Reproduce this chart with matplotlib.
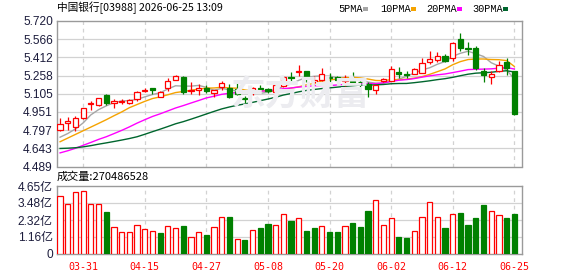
import matplotlib
matplotlib.use('Agg')
import matplotlib.pyplot as plt
from matplotlib.patches import Rectangle
import pandas as pd

W, H = 578, 276

title = "中国银行[03988] 2026-06-25 13:09"
vol_title = "成交量:270486528"

# daily OHLC (HKD), 60 sessions shown
opens  = [4.80, 4.86, 4.82, 4.90, 5.02, 5.01, 5.09, 5.03, 5.035, 5.03,
          5.06, 5.13, 5.15, 5.08, 5.15, 5.225, 5.245, 5.13, 5.14, 5.15,
          5.11, 5.165, 5.155, 5.145, 5.065, 5.12, 5.15, 5.145, 5.12, 5.17,
          5.25, 5.29, 5.295, 5.20, 5.22, 5.245, 5.25, 5.21, 5.215, 5.205,
          5.185, 5.14, 5.21, 5.21, 5.285, 5.27, 5.27, 5.28, 5.37, 5.39,
          5.425, 5.405, 5.565, 5.49, 5.49, 5.30, 5.245, 5.295, 5.37, 5.295]
highs  = [4.90, 4.91, 4.92, 4.98, 5.04, 5.07, 5.10, 5.06, 5.06, 5.06,
          5.13, 5.155, 5.155, 5.13, 5.24, 5.26, 5.255, 5.20, 5.19, 5.18,
          5.14, 5.21, 5.19, 5.195, 5.085, 5.16, 5.18, 5.155, 5.19, 5.255,
          5.29, 5.345, 5.30, 5.252, 5.322, 5.28, 5.255, 5.26, 5.29, 5.238,
          5.20, 5.182, 5.24, 5.337, 5.33, 5.295, 5.325, 5.408, 5.464, 5.458,
          5.44, 5.54, 5.621, 5.543, 5.505, 5.322, 5.295, 5.385, 5.408, 5.30]
lows   = [4.79, 4.80, 4.79, 4.89, 4.97, 5.00, 5.01, 4.98, 5.02, 5.02,
          5.04, 5.12, 5.105, 5.08, 5.125, 5.22, 5.105, 5.10, 5.09, 5.11,
          5.08, 5.14, 5.07, 5.09, 5.03, 5.095, 5.125, 5.115, 5.10, 5.16,
          5.21, 5.252, 5.204, 5.182, 5.21, 5.196, 5.22, 5.168, 5.182, 5.154,
          5.075, 5.103, 5.20, 5.21, 5.238, 5.238, 5.27, 5.281, 5.357, 5.372,
          5.372, 5.379, 5.469, 5.43, 5.302, 5.204, 5.19, 5.29, 5.266, 4.928]
closes = [4.85, 4.87, 4.90, 4.98, 5.03, 5.07, 5.03, 5.04, 5.045, 5.05,
          5.12, 5.135, 5.14, 5.12, 5.21, 5.255, 5.12, 5.14, 5.15, 5.13,
          5.135, 5.195, 5.08, 5.10, 5.06, 5.155, 5.145, 5.125, 5.175, 5.25,
          5.24, 5.30, 5.25, 5.22, 5.27, 5.235, 5.225, 5.24, 5.205, 5.20,
          5.145, 5.18, 5.23, 5.31, 5.275, 5.265, 5.315, 5.365, 5.40, 5.425,
          5.38, 5.535, 5.495, 5.485, 5.32, 5.265, 5.27, 5.35, 5.325, 4.935]
# closes of the 29 sessions before the window (estimated from where the MA lines start)
prior_closes = [4.80, 4.78, 4.76, 4.72, 4.70, 4.70, 4.69, 4.68, 4.66, 4.67,
                4.51, 4.48, 4.48, 4.54, 4.56, 4.58, 4.51, 4.50, 4.46, 4.48,
                4.56, 4.59, 4.67, 4.72, 4.76, 4.715, 4.705, 4.725, 4.69]
# volume in 亿 shares
volumes = [3.94, 3.40, 4.21, 4.28, 3.40, 3.40, 2.86, 1.83, 1.51, 1.51,
           1.96, 1.69, 1.55, 1.44, 1.89, 1.76, 1.92, 1.15, 1.49, 1.30,
           1.83, 2.50, 2.52, 1.01, 0.97, 1.62, 1.78, 2.05, 2.00, 2.72,
           2.25, 2.43, 1.58, 1.78, 1.91, 1.51, 1.51, 1.91, 2.14, 1.87,
           2.93, 3.72, 1.98, 2.43, 1.17, 1.10, 1.58, 2.52, 3.58, 2.50,
           1.78, 2.72, 2.79, 1.98, 2.45, 3.33, 2.97, 2.66, 2.45, 2.705]

price_ticks = [4.489, 4.643, 4.797, 4.951, 5.105, 5.258, 5.412, 5.566, 5.720]
price_tick_labels = ["4.489", "4.643", "4.797", "4.951", "5.105", "5.258", "5.412", "5.566", "5.720"]
vol_ticks = [0, 1.1625, 2.325, 3.4875, 4.65]
vol_tick_labels = ["0", "1.16亿", "2.32亿", "3.48亿", "4.65亿"]
date_idx = [3, 11, 19, 27, 35, 43, 51, 59]
date_labels = ["03-31", "04-15", "04-27", "05-08", "05-20", "06-02", "06-12", "06-25"]
ma_periods = [5, 10, 20, 30]
ma_labels = ["5PMA", "10PMA", "20PMA", "30PMA"]

RED = "#ff0000"
GREEN = "#008000"
ma_colors = ["#a6a6a6", "#f5a300", "#ff00ff", "#00662e"]
GRID = "#d2d2d2"
SPINE = "#9a9a9a"
LBL = "#1c1c3c"
CJK = ["Noto Sans CJK SC", "DejaVu Sans"]
NUMF = ["Liberation Sans", "Noto Sans CJK SC"]

n = len(closes)
xs = list(range(n))

fig = plt.figure(figsize=(W / 100, H / 100), dpi=100)
fig.patch.set_facecolor("white")

def fx(px):
    return px / W

def fy(py):
    return 1 - py / H

ax1 = fig.add_axes([fx(57), fy(166.5), fx(522 - 57), (166.5 - 21) / H])
ax2 = fig.add_axes([fx(57), fy(254), fx(522 - 57), (254 - 186) / H])

for ax in (ax1, ax2):
    ax.set_xlim(-0.4, 60.0)
    for s in ax.spines.values():
        s.set_color(SPINE)
        s.set_linewidth(1.0)
    ax.tick_params(length=0)
    for xi in date_idx:
        ax.axvline(xi, color=GRID, lw=0.9, ls=(0, (3, 3)), zorder=0)

# ---- price panel ----
ax1.set_ylim(price_ticks[0], price_ticks[-1])
ax1.set_yticks(price_ticks)
ax1.set_yticklabels(price_tick_labels, family=NUMF, fontsize=8.6, color=LBL)
ax1.tick_params(axis='y', pad=3)
ax1.set_xticks([])
for t in price_ticks[1:-1]:
    ax1.axhline(t, color=GRID, lw=0.9, zorder=0)

# watermark
fig.text(fx(300), fy(94), "东方财富", family=CJK, fontsize=25, fontweight='bold',
         style='italic', color="#ececf0", ha='center', va='center', zorder=0)

# moving averages
allc = pd.Series(prior_closes + closes)
for p, c in zip(ma_periods, ma_colors):
    ma = allc.rolling(p).mean().iloc[-n:].to_numpy()
    ax1.plot(xs, ma, color=c, lw=1.0, zorder=2)

bw = 0.68
for i in range(n):
    o, h, l, c = opens[i], highs[i], lows[i], closes[i]
    up = c >= o
    col = RED if up else GREEN
    ax1.plot([i, i], [l, h], color=col, lw=0.9, zorder=3, solid_capstyle='butt')
    bottom = min(o, c)
    height = max(abs(c - o), 0.002)
    ax1.add_patch(Rectangle((i - bw / 2, bottom), bw, height,
                            facecolor='white' if up else GREEN,
                            edgecolor=col, lw=0.9, zorder=4))

# ---- volume panel ----
ax2.set_ylim(0, 4.65)
ax2.set_yticks(vol_ticks)
ax2.set_yticklabels(vol_tick_labels, family=NUMF, fontsize=8.6, color=LBL)
ax2.tick_params(axis='y', pad=3)
for t in vol_ticks[1:-1]:
    ax2.axhline(t, color=GRID, lw=0.9, zorder=0)
prev = [prior_closes[-1]] + closes[:-1]
for i in range(n):
    up = closes[i] >= prev[i]
    if up:
        ax2.bar(i, volumes[i], width=bw, facecolor='white', edgecolor=RED, lw=0.9, zorder=3)
    else:
        ax2.bar(i, volumes[i], width=bw, facecolor=GREEN, edgecolor=GREEN, lw=0.9, zorder=3)
ax2.set_xticks(date_idx)
ax2.set_xticklabels(date_labels, family="DejaVu Sans Mono", fontsize=7.2, color=RED)
ax2.tick_params(axis='x', pad=6)

# ---- texts ----
fig.text(fx(57), fy(8), title, family=CJK, fontsize=7.7, color='black', ha='left', va='center')
fig.text(fx(57), fy(177), vol_title, family=CJK, fontsize=8, color='black', ha='left', va='center')

leg_x = [338, 380, 426, 472]
for lab, c, x0 in zip(ma_labels, ma_colors, leg_x):
    fig.text(fx(x0), fy(8.5), lab, family="Liberation Mono", fontsize=7.4,
             color='black', ha='left', va='center')
    w = 5.8 * len(lab)
    fig.patches.append(Rectangle((fx(x0 + w + 2), fy(11)), fx(5), 4 / H,
                                 transform=fig.transFigure, facecolor=c, edgecolor='none'))

fig.savefig("out.png", dpi=100, facecolor='white')
